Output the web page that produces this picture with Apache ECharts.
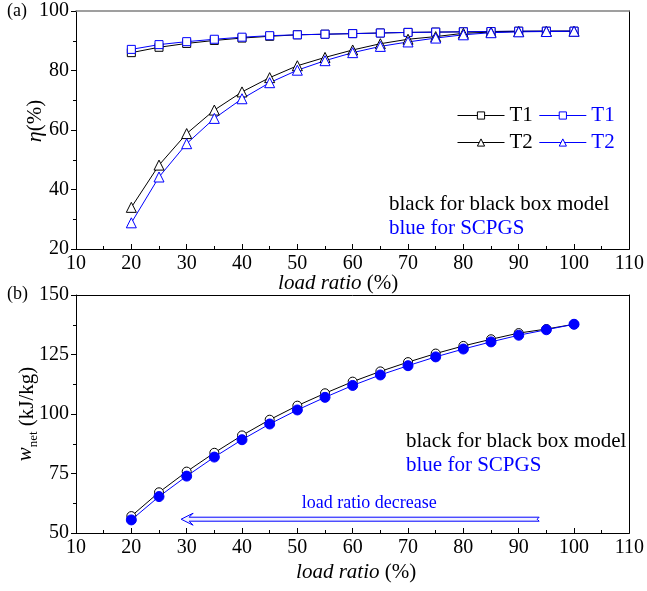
<!DOCTYPE html>
<html>
<head>
<meta charset="utf-8">
<script src="https://cdn.jsdelivr.net/npm/echarts@6/dist/echarts.min.js"></script>
<style>
  html, body { margin: 0; padding: 0; background: #fff; }
  #chart { width: 647px; height: 591px; }
  .preload { position: absolute; left: 0; top: 0; visibility: hidden; font-family: 'Liberation Serif'; font-size: 20px; }
</style>
</head>
<body>
<div class="preload">load <i>ratio η</i></div>
<div id="chart"></div>
<script>
// load ratio (%) shared by both panels
const loadRatio = [20, 25, 30, 35, 40, 45, 50, 55, 60, 65, 70, 75, 80, 85, 90, 95, 100];

// (a) efficiency, %
const etaT1Black = [86.0, 87.8, 89.1, 90.1, 90.9, 91.5, 92.0, 92.2, 92.4, 92.6, 92.8, 92.9, 93.0, 93.1, 93.2, 93.2, 93.2];
const etaT1Blue = [87.1, 88.7, 89.7, 90.5, 91.2, 91.7, 92.0, 92.2, 92.4, 92.6, 92.8, 92.9, 93.0, 93.1, 93.2, 93.2, 93.2];
const etaT2Black = [34.0, 48.2, 58.8, 66.7, 72.8, 77.6, 81.6, 84.4, 86.9, 89.0, 90.5, 91.4, 92.5, 92.9, 93.1, 93.2, 93.2];
const etaT2Blue = [28.8, 44.2, 55.4, 63.9, 70.5, 75.9, 80.1, 83.3, 86.0, 88.1, 89.6, 90.9, 92.0, 92.7, 93.0, 93.1, 93.2];

// (b) net specific work, kJ/kg
const wnetBlack = [57.1, 67.1, 75.8, 83.7, 91.0, 97.6, 103.5, 108.7, 113.6, 117.9, 121.8, 125.4, 128.6, 131.4, 134.0, 135.7, 137.7];
const wnetBlue = [55.5, 65.3, 73.9, 81.9, 89.2, 95.8, 101.7, 107.0, 112.0, 116.4, 120.3, 124.0, 127.3, 130.3, 133.1, 135.4, 137.7];

// "load ratio decrease" arrow in panel (b): [x start, x tip, y, label x, label y]
const arrowData = [[93.7, 29.0, 55.8, 63.0, 62.3]];

const FONT = 'Liberation Serif';
const BLACK = '#000';
const BLUE = '#0000ff';

const zip = ys => loadRatio.map((x, i) => [x, ys[i]]);

function xAxes(gridIndex, name, namePadding, topColor) {
  return [{
    type: 'value', gridIndex, min: 10, max: 110, interval: 10,
    name, nameLocation: 'middle', nameGap: gridIndex === 0 ? 24 : 29,
    nameMoveOverlap: false,
    nameTextStyle: {
      fontFamily: FONT, fontSize: 21, color: BLACK, padding: namePadding,
      rich: { i: { fontFamily: FONT, fontSize: 21, fontStyle: 'italic', color: BLACK } }
    },
    axisLine: { lineStyle: { color: BLACK, width: 1 } },
    axisTick: { inside: true, length: 5, lineStyle: { color: BLACK } },
    minorTick: { show: true, splitNumber: 2, length: 3, lineStyle: { color: BLACK } },
    axisLabel: { fontFamily: FONT, fontSize: 20, color: BLACK, margin: 5 },
    splitLine: { show: false }
  }, {
    type: 'value', gridIndex, position: 'top', min: 10, max: 110,
    axisLine: { show: true, onZero: false, lineStyle: { color: topColor, width: gridIndex === 0 ? 1.5 : 1 } },
    axisTick: { show: false }, axisLabel: { show: false }, splitLine: { show: false }
  }];
}

function yAxes(gridIndex, min, max, interval, name, nameGap, namePadding, rich) {
  return [{
    type: 'value', gridIndex, min, max, interval,
    name, nameLocation: 'middle', nameGap, nameMoveOverlap: false,
    nameTextStyle: { fontFamily: FONT, fontSize: 21, color: BLACK, padding: namePadding, rich },
    axisLine: { show: true, lineStyle: { color: BLACK, width: 1 } },
    axisTick: { show: true, length: 5, lineStyle: { color: BLACK } },
    minorTick: { show: true, splitNumber: 2, length: 3, lineStyle: { color: BLACK } },
    axisLabel: { fontFamily: FONT, fontSize: 20, color: BLACK, margin: 7 },
    splitLine: { show: false }
  }, {
    type: 'value', gridIndex, position: 'right', min, max,
    axisLine: { show: true, lineStyle: { color: BLACK, width: 1 } },
    axisTick: { show: false }, axisLabel: { show: false }, splitLine: { show: false }
  }];
}

function lineSeries(name, data, color, symbol, size, xi, yi, fill) {
  return {
    type: 'line', name, data: zip(data), xAxisIndex: xi, yAxisIndex: yi,
    symbol, symbolSize: size, showAllSymbol: true,
    lineStyle: { color, width: 1 },
    itemStyle: { color: fill || '#fff', borderColor: color, borderWidth: 1 },
    animation: false
  };
}

function renderArrow(params, api) {
  const y = api.value(2);
  const start = api.coord([api.value(0), y]);
  const tip = api.coord([api.value(1), y]);
  const lab = api.coord([api.value(3), api.value(4)]);
  const x0 = tip[0], yc = tip[1], x1 = start[0];
  return {
    type: 'group',
    children: [{
      type: 'polygon',
      shape: {
        points: [
          [x0, yc], [x0 + 12, yc - 6], [x0 + 8, yc - 2], [x1, yc - 2],
          [x1 - 2, yc], [x1, yc + 2], [x0 + 8, yc + 2], [x0 + 12, yc + 6]
        ]
      },
      style: { fill: '#f2f2ff', stroke: BLUE, lineWidth: 1 }
    }, {
      type: 'text',
      x: lab[0], y: lab[1],
      style: {
        text: 'load ratio decrease', fill: BLUE, font: '18px ' + FONT,
        textAlign: 'center', textVerticalAlign: 'middle'
      }
    }]
  };
}

const option = {
  backgroundColor: '#fff',
  animation: false,
  grid: [
    { left: 76, top: 11, width: 555, height: 238 },
    { left: 76, top: 295, width: 555, height: 238 }
  ],
  xAxis: [].concat(
    xAxes(0, '{i|load ratio} (%)', [0, 29, 0, 0], '#808080'),
    xAxes(1, '{i|load ratio} (%)', [0, 0, 0, 7], BLACK)
  ),
  yAxis: [].concat(
    yAxes(0, 20, 100, 20, '{i|η}(%)', 30, [0, 0, 0, 18],
      { i: { fontFamily: FONT, fontSize: 22, fontStyle: 'italic', color: BLACK } }),
    yAxes(1, 50, 150, 25, '{i|w}{s|net} (kJ/kg)', 36, [0, 0, 0, 0], {
      i: { fontFamily: FONT, fontSize: 21, fontStyle: 'italic', color: BLACK, padding: [0, 0, 4, 0] },
      s: { fontFamily: FONT, fontSize: 13, color: BLACK, verticalAlign: 'bottom', lineHeight: 13 }
    })
  ),
  legend: {
    left: 452, top: 100, width: 170,
    itemWidth: 47, itemHeight: 9, itemGap: 6,
    selectedMode: false,
    formatter: name => name.trim(),
    lineStyle: { width: 1 },
    itemStyle: { color: '#fff', borderWidth: 1 },
    textStyle: { fontFamily: FONT, fontSize: 21, lineHeight: 21 },
    data: [
      { name: 'T1', textStyle: { color: BLACK } },
      { name: 'T1 ', textStyle: { color: BLUE } },
      { name: 'T2', textStyle: { color: BLACK } },
      { name: 'T2 ', textStyle: { color: BLUE } }
    ]
  },
  graphic: [
    { type: 'text', left: 7, top: 2, style: { text: '(a)', font: '18px ' + FONT, fill: BLACK } },
    { type: 'text', left: 7, top: 285, style: { text: '(b)', font: '18px ' + FONT, fill: BLACK } },
    { type: 'text', left: 389, top: 194, style: { text: 'black for black box model', font: '21px ' + FONT, fill: BLACK } },
    { type: 'text', left: 389, top: 218, style: { text: 'blue for SCPGS', font: '21px ' + FONT, fill: BLUE } },
    { type: 'text', left: 406, top: 431, style: { text: 'black for black box model', font: '21px ' + FONT, fill: BLACK } },
    { type: 'text', left: 406, top: 455, style: { text: 'blue for SCPGS', font: '21px ' + FONT, fill: BLUE } }
  ],
  series: [
    lineSeries('T1', etaT1Black, BLACK, 'rect', 8, 0, 0),
    lineSeries('T1 ', etaT1Blue, BLUE, 'rect', 8, 0, 0),
    lineSeries('T2', etaT2Black, BLACK, 'triangle', 10, 0, 0),
    lineSeries('T2 ', etaT2Blue, BLUE, 'triangle', 10, 0, 0),
    lineSeries('wnet black', wnetBlack, BLACK, 'circle', 9, 2, 2),
    lineSeries('wnet blue', wnetBlue, BLUE, 'circle', 10, 2, 2, BLUE),
    {
      type: 'custom', xAxisIndex: 2, yAxisIndex: 2,
      renderItem: renderArrow, data: arrowData, silent: true, z: 5
    }
  ]
};

function draw() {
  const chart = echarts.init(document.getElementById('chart'));
  chart.setOption(option);
}

// make sure the serif face is ready before the canvas measures any text
if (document.fonts && document.fonts.load) {
  Promise.all([
    document.fonts.load('20px "Liberation Serif"'),
    document.fonts.load('italic 20px "Liberation Serif"')
  ]).then(draw, draw);
} else {
  draw();
}
</script>
</body>
</html>
